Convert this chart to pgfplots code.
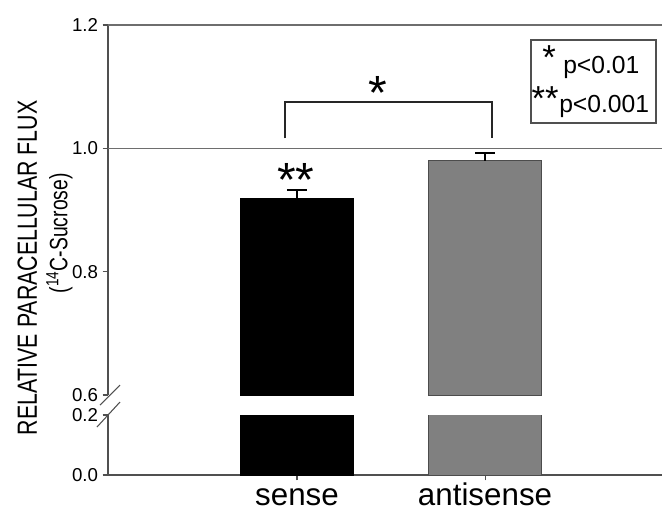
\documentclass[border=0pt]{standalone}
\usepackage{pgfplots}
\pgfplotsset{compat=1.18}
\usepackage{fontspec}
\setmainfont{Liberation Sans}
\definecolor{axgray}{RGB}{80,80,80}
\definecolor{gridgray}{RGB}{110,110,110}
\definecolor{bargray}{RGB}{128,128,128}
\pgfplotsset{
  common/.style={
    scale only axis, width=415.5pt,
    xmin=-1.005, xmax=1.941,
    axis line style={axgray, line width=0.8pt},
    tick style={axgray, line width=0.8pt},
    tick align=outside, major tick length=4pt,
    yticklabel style={font=\fontsize{14}{14}\selectfont,
      /pgf/number format/fixed, /pgf/number format/fixed zerofill,
      /pgf/number format/precision=1, /pgf/number format/assume math mode=true},
  },
  errs/.style={error bars/.cd, y dir=plus, y explicit,
    error bar style={line width=1.5pt, black},
    error mark options={rotate=90, mark size=7.5pt, line width=1.5pt, black}},
}
\begin{document}
\begin{tikzpicture}
\useasboundingbox (0,0) rectangle (497.25pt,384pt);
% upper part
\begin{axis}[common,
  at={(81pt,87.75pt)}, anchor=south west, height=277.5pt,
  ymin=0.6, ymax=1.2,
  axis x line=none, axis y line*=left,
  ytick={0.6,0.8}, extra y ticks={1.0,1.2},
  extra y tick labels={1.0,1.2},
  extra y tick style={ymajorgrids=true},
  major grid style={gridgray, line width=0.8pt},
]
\addplot[ybar, bar width=0.6, bar shift=0pt, fill=black, draw=black, errs]
  coordinates {(0,0.919) +- (0,0.014)};
\addplot[ybar, bar width=0.6, bar shift=0pt, fill=bargray, draw=gray!60!black, errs]
  coordinates {(1,0.980) +- (0,0.013)};
\draw[line width=1.4pt, black!85] (axis cs:-0.064,1.016) |- (axis cs:1.037,1.075) -- (axis cs:1.037,1.016);
\end{axis}
% lower part
\begin{axis}[common,
  at={(81pt,27.75pt)}, anchor=south west, height=45pt,
  ymin=0, ymax=0.2,
  axis x line*=bottom, axis y line*=left,
  ytick={0,0.2},
  xtick={0,1}, xticklabels={sense,antisense},
  xticklabel style={font=\fontsize{23.5}{24}\selectfont, text height=17pt, text depth=0pt, inner sep=1pt, yshift=-1pt},
]
\addplot[ybar, bar width=0.6, bar shift=0pt, fill=black, draw=black]
  coordinates {(0,0.919)};
\addplot[ybar, bar width=0.6, bar shift=0pt, fill=bargray, draw=gray!60!black]
  coordinates {(1,0.980)};
\end{axis}
% break marks
\draw[axgray, line width=0.8pt] (75pt,80.25pt) -- (90pt,95.25pt);
\draw[axgray, line width=0.8pt] (72.75pt,63.75pt) -- (90pt,82.5pt);
% y label
\node[rotate=90] at (20.5pt,183pt) {\scalebox{1}[1.3]{\fontsize{16}{18}\selectfont RELATIVE PARACELLULAR FLUX}};
\node[rotate=90] at (44.5pt,209pt) {\scalebox{1}[1.3]{\fontsize{14.5}{16}\selectfont (\textsuperscript{14}C-Sucrose)}};
% significance stars
\node[anchor=base, inner sep=0pt] at (222pt,237pt) {\fontsize{36}{36}\selectfont **};
\node[anchor=base, inner sep=0pt] at (283.5pt,302pt) {\fontsize{36}{36}\selectfont *};
% legend box
\draw[axgray, line width=0.8pt] (398.25pt,291.75pt) rectangle (492pt,354pt);
\node[anchor=base west, inner sep=0pt] at (422.25pt,329.25pt) {\fontsize{18.5}{20}\selectfont p<0.01};
\node[anchor=base west, inner sep=0pt] at (419.25pt,300pt) {\fontsize{18.5}{20}\selectfont p<0.001};
\node[anchor=base, inner sep=0pt] at (411.75pt,332pt) {\fontsize{26}{26}\selectfont *};
\node[anchor=base, inner sep=0pt] at (408.75pt,301pt) {\fontsize{26}{26}\selectfont **};
\end{tikzpicture}
\end{document}
